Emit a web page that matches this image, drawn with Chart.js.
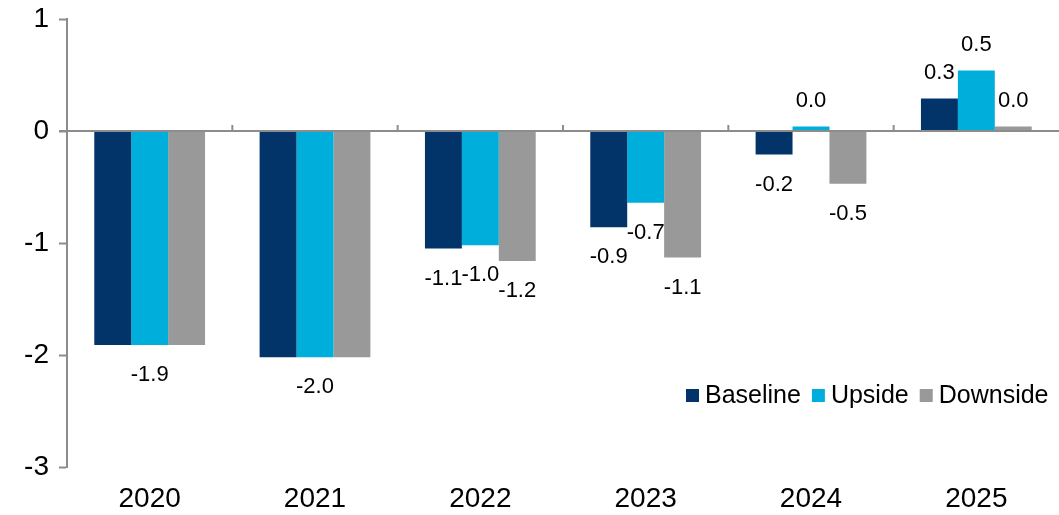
<!DOCTYPE html>
<html>
<head>
<meta charset="utf-8">
<script src="https://cdn.jsdelivr.net/npm/chart.js@4"></script>
<style>
    html, body { margin: 0; padding: 0; background: #fff; }
    #wrap { width: 1059px; height: 515px; }
</style>
</head>
<body>
<div id="wrap"><canvas id="chart"></canvas></div>
<script>
const years = ['2020', '2021', '2022', '2023', '2024', '2025'];

const baseline = [-1.91, -2.02, -1.05, -0.86, -0.21, 0.29];
const upside = [-1.91, -2.02, -1.02, -0.64, 0.04, 0.54];
const downside = [-1.91, -2.02, -1.16, -1.13, -0.47, 0.04];

// label text per bar, null = no label shown
const baselineLabels = [null, null, '-1.1', '-0.9', '-0.2', '0.3'];
const upsideLabels = ['-1.9', '-2.0', '-1.0', '-0.7', '0.0', '0.5'];
const downsideLabels = [null, null, '-1.2', '-1.1', '-0.5', '0.0'];

const yTicks = [1, 0, -1, -2, -3];

const BaseColor = '#02346a';
const UpColor = '#00aedb';
const DownColor = '#999999';
const AxisColor = '#8c8c8c';
const FontFamily = "'Liberation Sans', Arial, sans-serif";

const valueLabels = {
    id: 'valueLabels',
    afterDatasetsDraw(chart) {
        const ctx = chart.ctx;
        ctx.save();
        ctx.font = '22px ' + FontFamily;
        ctx.fillStyle = '#000';
        ctx.textAlign = 'center';
        ctx.textBaseline = 'middle';
        chart.data.datasets.forEach((ds, i) => {
            chart.getDatasetMeta(i).data.forEach((bar, j) => {
                const txt = ds.valueText[j];
                if (txt == null) return;
                const y = ds.data[j] >= 0 ? bar.y - 26 : bar.y + 30;
                ctx.fillText(txt, bar.x, y);
            });
        });
        ctx.restore();
    }
};

// zero line plus short tick marks between categories
const zeroTicks = {
    id: 'zeroTicks',
    afterDatasetsDraw(chart) {
        const ctx = chart.ctx;
        const x = chart.scales.x;
        const y0 = chart.scales.y.getPixelForValue(0);
        ctx.save();
        ctx.strokeStyle = AxisColor;
        ctx.lineWidth = 2;
        ctx.beginPath();
        ctx.moveTo(chart.chartArea.left - 8, y0);
        ctx.lineTo(chart.chartArea.right, y0);
        for (let i = 1; i < years.length; i++) {
            const bx = (x.getPixelForValue(i - 1) + x.getPixelForValue(i)) / 2;
            ctx.moveTo(bx, y0);
            ctx.lineTo(bx, y0 - 6);
        }
        ctx.stroke();
        ctx.restore();
    }
};

const insideLegend = {
    id: 'insideLegend',
    afterDraw(chart) {
        const ctx = chart.ctx;
        ctx.save();
        ctx.font = '25px ' + FontFamily;
        ctx.textBaseline = 'middle';
        let x = 686;
        const y = 395;
        chart.data.datasets.forEach(ds => {
            ctx.fillStyle = ds.backgroundColor;
            ctx.fillRect(x, y - 6, 13, 13);
            x += 19;
            ctx.fillStyle = '#000';
            ctx.fillText(ds.label, x, y + 1);
            x += ctx.measureText(ds.label).width + 11;
        });
        ctx.restore();
    }
};

new Chart(document.getElementById('chart'), {
    type: 'bar',
    data: {
        labels: years,
        datasets: [
            { label: 'Baseline', data: baseline, valueText: baselineLabels, backgroundColor: BaseColor },
            { label: 'Upside', data: upside, valueText: upsideLabels, backgroundColor: UpColor },
            { label: 'Downside', data: downside, valueText: downsideLabels, backgroundColor: DownColor }
        ]
    },
    options: {
        responsive: true,
        maintainAspectRatio: false,
        animation: false,
        layout: { padding: { top: 19, right: 0, left: 0, bottom: 0 } },
        datasets: {
            bar: { categoryPercentage: 0.67, barPercentage: 1.0 }
        },
        plugins: {
            legend: { display: false },
            tooltip: { enabled: false }
        },
        scales: {
            x: {
                grid: { display: false },
                border: { display: false },
                ticks: {
                    color: '#000',
                    font: { family: FontFamily, size: 28 },
                    padding: 7,
                    maxRotation: 0
                },
                afterFit(scale) { scale.height = 48; }
            },
            y: {
                min: -3,
                max: 1,
                afterBuildTicks(scale) {
                    scale.ticks = yTicks.map(v => ({ value: v }));
                },
                grid: {
                    drawOnChartArea: false,
                    tickLength: 8,
                    tickWidth: 2,
                    tickColor: AxisColor
                },
                border: { display: true, color: AxisColor, width: 2 },
                ticks: {
                    color: '#000',
                    font: { family: FontFamily, size: 28 },
                    padding: 10
                },
                afterFit(scale) {
                    scale.width = 67;
                    scale.paddingTop = 0;
                    scale.paddingBottom = 0;
                }
            }
        }
    },
    plugins: [zeroTicks, valueLabels, insideLegend]
});
</script>
</body>
</html>
